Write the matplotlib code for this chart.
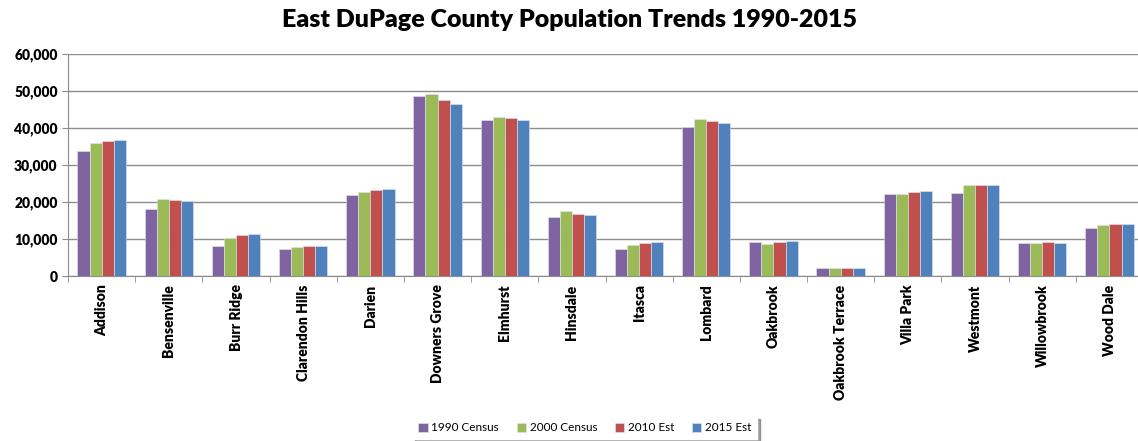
import numpy as np
import matplotlib
matplotlib.use("Agg")
import matplotlib.pyplot as plt
from matplotlib.ticker import FuncFormatter

plt.rcParams['font.family'] = ['Lato', 'DejaVu Sans']

towns = ["Addison", "Bensenville", "Burr Ridge", "Clarendon Hills", "Darien", "Downers Grove",
         "Elmhurst", "Hinsdale", "Itasca", "Lombard", "Oakbrook", "Oakbrook Terrace",
         "Villa Park", "Westmont", "Willowbrook", "Wood Dale"]
census_1990 = [33900, 18100, 8200, 7300, 21800, 48600, 42200, 16000, 7300, 40300, 9200, 2200, 22300, 22500, 8900, 13100]
census_2000 = [35900, 20700, 10300, 7800, 22800, 49100, 42900, 17500, 8300, 42400, 8700, 2200, 22100, 24600, 8900, 13800]
est_2010 = [36600, 20500, 11000, 8000, 23200, 47500, 42600, 16800, 9000, 41900, 9200, 2200, 22800, 24600, 9200, 14100]
est_2015 = [36900, 20200, 11300, 8000, 23500, 46600, 42200, 16400, 9200, 41500, 9500, 2200, 23000, 24600, 8900, 14100]

series = [("1990 Census", census_1990, "#8064A2"),
          ("2000 Census", census_2000, "#9BBB59"),
          ("2010 Est", est_2010, "#C0504D"),
          ("2015 Est", est_2015, "#4F81BD")]

fig = plt.figure(figsize=(11.38, 4.41), dpi=100)
ax = fig.add_axes([0.0598, 0.374, 0.9446, 0.5034])

x = np.arange(len(towns))
w = 0.18
for i, (name, vals, col) in enumerate(series):
    ax.bar(x + (i - 1.5) * w, vals, w, color=col, label=name, edgecolor="#dfe6f0", linewidth=0.4, zorder=3)

ax.set_xlim(-0.5, len(towns) - 0.5)
ax.set_ylim(0, 60000)
ax.set_yticks(range(0, 60001, 10000))
ax.yaxis.set_major_formatter(FuncFormatter(lambda v, p: f"{int(v):,}"))
ax.grid(axis="y", color="#8c8c8c", linewidth=1.0, zorder=0)
ax.set_xticks(x)
ax.set_xticklabels(towns, rotation=90, fontsize=10, fontweight="heavy")
ax.set_xticks(np.arange(-0.5, len(towns)), minor=True)
ax.tick_params(axis="x", which="major", length=0, pad=6)
ax.tick_params(axis="x", which="minor", length=4, color="#8c8c8c")
ax.tick_params(axis="y", length=4, color="#8c8c8c", labelsize=10)
for lab in ax.get_yticklabels():
    lab.set_fontweight("heavy")
for s in ["top", "right"]:
    ax.spines[s].set_visible(False)
ax.spines["left"].set_color("#8c8c8c")
ax.spines["bottom"].set_color("#8c8c8c")

fig.text(0.5, 0.955, "East DuPage County Population Trends 1990-2015", ha="center", va="center",
         fontsize=18, fontweight="heavy")

leg = fig.legend(loc="center", bbox_to_anchor=(0.514, 0.03), ncol=4, fontsize=8.5, frameon=True,
                 fancybox=False, shadow=True, handlelength=0.8, handleheight=0.8, handletextpad=0.3,
                 columnspacing=1.5, borderpad=0.5)
leg.get_frame().set_edgecolor("white")

fig.savefig("out.png", dpi=100)
